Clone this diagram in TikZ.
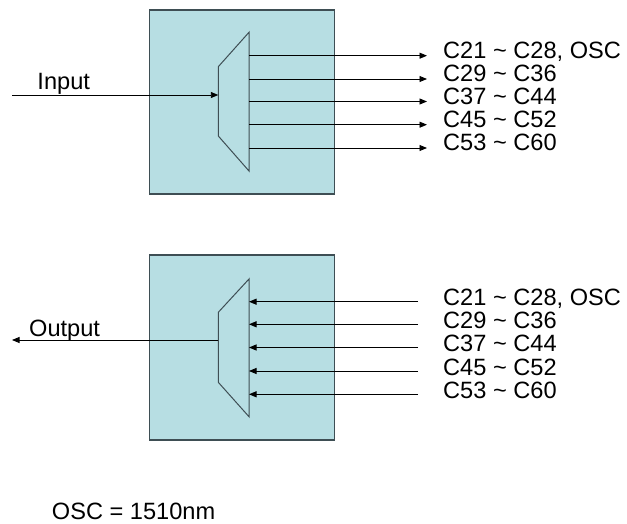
\documentclass[tikz,border=0pt]{standalone}
\usepackage{fontspec}
\setmainfont{Liberation Sans}
\usepackage{xcolor}
\usepackage{tikz}
\usetikzlibrary{positioning,arrows.meta}

\definecolor{boxfill}{RGB}{183,222,227}
\definecolor{boxline}{RGB}{62,78,84}

\begin{document}
\begin{tikzpicture}[
    x=1pt, y=-1pt,
    unit/.style={
        draw=boxline,
        fill=boxfill,
        line width=1.2pt,
        rectangle,
        minimum width=185pt,
        minimum height=184pt,
        inner sep=0pt
    },
    mux/.style={draw=boxline, line width=1pt},
    lab/.style={inner sep=0pt, font=\fontsize{23.6}{25}\selectfont},
    arrow/.style={-{Triangle[length=7.5pt,width=6pt]}, line width=0.9pt}
]
\useasboundingbox (0,0) rectangle (627,524);

% demultiplexer
\node[unit] (demux) at (241.8,102) {};
\draw[mux] (218.3,66.7) -- (249,32.3) -- (249,171) -- (218.3,136) -- cycle;
\coordinate (inp) at (12,95);
\coordinate (demuxin) at (218.3,95);
\node[lab, anchor=base west] (inlab) at (37.3,90) {Input};
\draw[arrow] (inp) -- (demuxin);

\foreach \i/\y/\txt in {1/55.7/{C21 \textasciitilde{} C28, OSC},
                        2/79/{C29 \textasciitilde{} C36},
                        3/101.5/{C37 \textasciitilde{} C44},
                        4/124.7/{C45 \textasciitilde{} C52},
                        5/148/{C53 \textasciitilde{} C60}} {
    \coordinate (dout\i) at (249,\y);
    \node[lab, anchor=base west] (dlab\i) at (443,\y+3) {\txt};
    \draw[arrow, shorten >=16pt] (dout\i) -- (dlab\i.west |- dout\i);
}

% multiplexer
\node[unit, minimum height=185pt] (mux) at (241.8,347.5) {};
\draw[mux] (218.3,312.3) -- (249,279) -- (249,416.7) -- (218.3,382.3) -- cycle;
\coordinate (outp) at (12,340);
\coordinate (muxout) at (218.3,340);
\node[lab, anchor=base west] (outlab) at (29,336) {Output};
\draw[arrow] (muxout) -- (outp);

\foreach \i/\y/\txt in {1/301.7/{C21 \textasciitilde{} C28, OSC},
                        2/324.3/{C29 \textasciitilde{} C36},
                        3/347.5/{C37 \textasciitilde{} C44},
                        4/371/{C45 \textasciitilde{} C52},
                        5/394.3/{C53 \textasciitilde{} C60}} {
    \coordinate (min\i) at (249,\y);
    \node[lab, anchor=base west] (mlab\i) at (443,\y+4) {\txt};
    \draw[arrow, shorten <=25pt] (mlab\i.west |- min\i) -- (min\i);
}

\node[lab, anchor=base west] (osc) at (51.7,519) {OSC = 1510nm};

\end{tikzpicture}
\end{document}
